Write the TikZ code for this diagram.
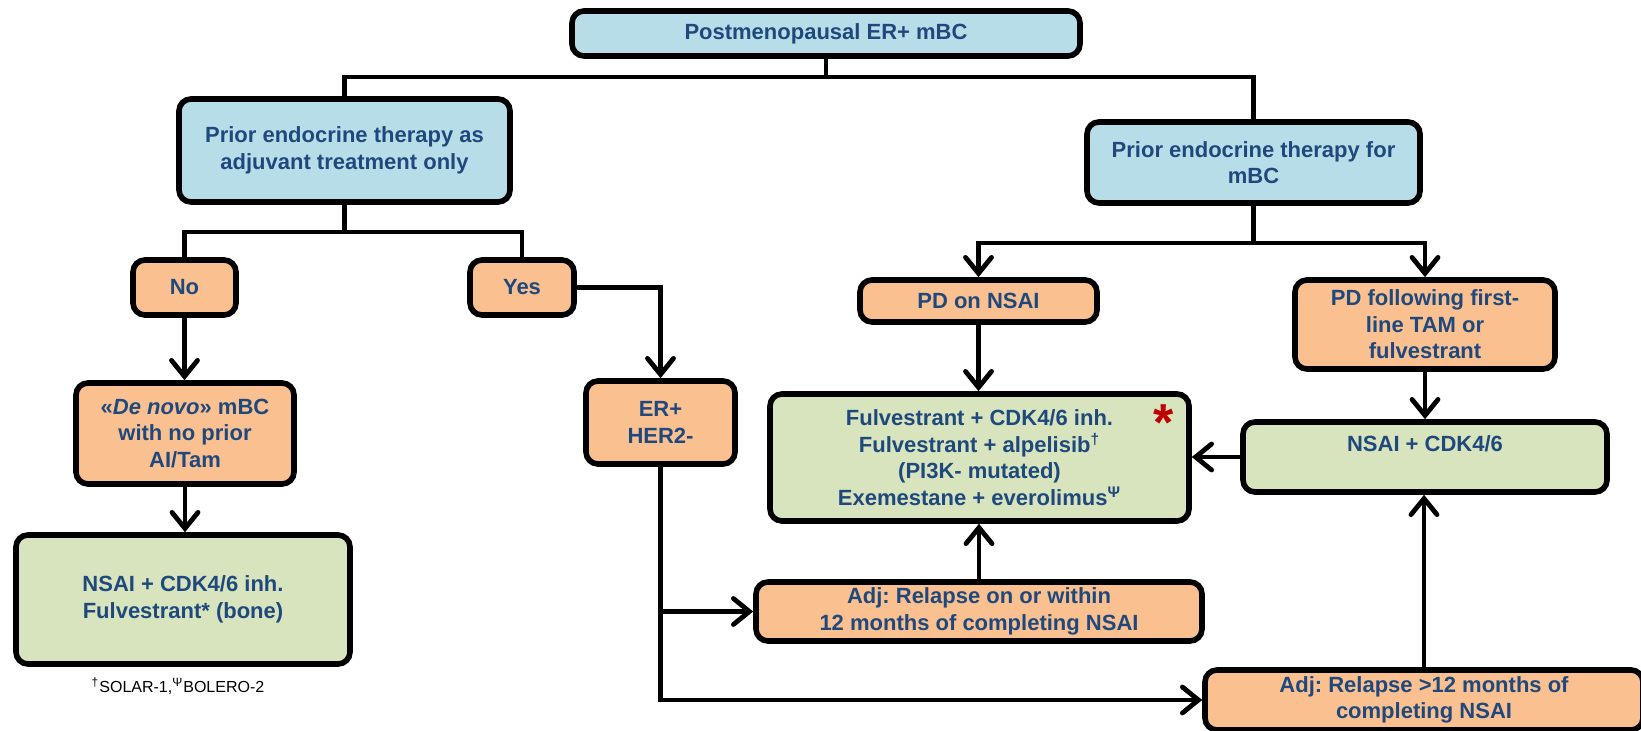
\documentclass[tikz,border=0pt]{standalone}
\usepackage{fontspec}
\setmainfont{Liberation Sans}
\usetikzlibrary{arrows.meta}
\frenchspacing
\definecolor{testo}{RGB}{31,73,125}
\definecolor{celeste}{RGB}{183,222,232}
\definecolor{pesca}{RGB}{250,192,144}
\definecolor{salvia}{RGB}{215,228,189}
\definecolor{rosso}{RGB}{192,0,0}
\tikzset{
  box/.style={draw=black, line width=2.8pt, rounded corners=6pt, text=testo,
    align=center, inner sep=2pt, font=\fontsize{11}{13.3}\selectfont\bfseries},
  blubox/.style={box, fill=celeste},
  orbox/.style={box, fill=pesca},
  grbox/.style={box, fill=salvia},
  linea/.style={line width=2.4pt},
  freccia/.style={linea, -{Straight Barb[length=8pt,width=13pt,line cap=round]}},
}
\begin{document}
\begin{tikzpicture}[x=0.5pt,y=-0.5pt]
  \useasboundingbox (0,0) rectangle (1641,731);
  % riquadri
  \node[blubox, minimum width=254pt, minimum height=22.5pt] (top) at (826,33.5) {Postmenopausal ER+ mBC};
  \node[blubox, minimum width=165.5pt, minimum height=51.5pt] (adjL) at (344.5,150.5) {Prior endocrine therapy as\\adjuvant treatment only};
  \node[blubox, minimum width=166.5pt, minimum height=40.5pt] (mbcR) at (1253.5,162.5) {Prior endocrine therapy for\\mBC};
  \node[orbox, minimum width=51.5pt, minimum height=27.5pt] (no) at (184.5,287.5) {No};
  \node[orbox, minimum width=52pt, minimum height=27.5pt] (yes) at (522,287.5) {Yes};
  \node[orbox, minimum width=109pt, minimum height=50.5pt] (denovo) at (185,433.5) {«\textit{De novo}» mBC\\with no prior\\AI/Tam};
  \node[grbox, minimum width=167pt, minimum height=64.5pt] (firstL) at (183,599.5) {NSAI + CDK4/6 inh.\\Fulvestrant* (bone)};
  \node[orbox, minimum width=74.5pt, minimum height=41.5pt] (erher) at (660.5,422.5) {ER+\\HER2-};
  \node[orbox, minimum width=118.5pt, minimum height=21pt] (pdnsai) at (978.5,301) {PD on NSAI};
  \node[orbox, minimum width=130pt, minimum height=44.5pt] (pdtam) at (1425,324.5) {PD following first-\\line TAM or\\fulvestrant};
  \node[grbox, minimum width=209.5pt, minimum height=63.5pt] (midbox) at (979.5,457.5) {Fulvestrant + CDK4/6 inh.\\Fulvestrant + alpelisib\textsuperscript{†}\\(PI3K- mutated)\\Exemestane + everolimus\textsuperscript{Ψ}};
  \node[grbox, minimum width=182pt, minimum height=35pt, text depth=13pt] (nsaiR) at (1425,457) {NSAI + CDK4/6};
  \node[orbox, minimum width=223pt, minimum height=29.5pt] (relA) at (979,611.5) {Adj: Relapse on or within\\12 months of completing NSAI};
  \node[orbox, minimum width=219pt, minimum height=30pt] (relB) at (1424,700) {Adj: Relapse >12 months of\\completing NSAI};
  \node[text=rosso, font=\fontsize{26}{26}\selectfont\bfseries, inner sep=0pt, anchor=north] (stella) at (1164,404) {*};
  \node[font=\fontsize{8}{9}\selectfont] (nota) at (178,686) {\textsuperscript{†}SOLAR-1,\textsuperscript{Ψ}BOLERO-2};

  % collegamenti
  \coordinate (split1) at (826,77);
  \coordinate (split2) at (344.5,232);
  \coordinate (split3) at (1253.5,243);
  \draw[linea] (top.south) -- (split1);
  \draw[linea] (adjL.north) |- (split1) -| (mbcR.north);
  \draw[linea] (adjL.south) -- (split2);
  \draw[linea] (no.north) |- (split2) -| (yes.north);
  \draw[freccia] (yes.east) -| (erher.north);
  \draw[freccia] (no.south) -- (no.south |- denovo.north);
  \draw[freccia] (denovo.south) -- (denovo.south |- firstL.north);
  \draw[linea] (mbcR.south) -- (split3);
  \draw[freccia] (split3) -| (pdnsai.north);
  \draw[freccia] (split3) -| (pdtam.north);
  \draw[freccia] (pdnsai.south) -- (pdnsai.south |- midbox.north);
  \draw[freccia] (pdtam.south) -- (nsaiR.north);
  \draw[freccia] (nsaiR.west) -- (nsaiR.west -| midbox.east);
  \draw[freccia] (relA.north) -- (relA.north |- midbox.south);
  \draw[freccia] (relB.north) -- (relB.north |- nsaiR.south);
  \draw[freccia] (erher.south) |- (relB.west);
  \draw[freccia] (erher.south |- relA.west) -- (relA.west);
\end{tikzpicture}
\end{document}
